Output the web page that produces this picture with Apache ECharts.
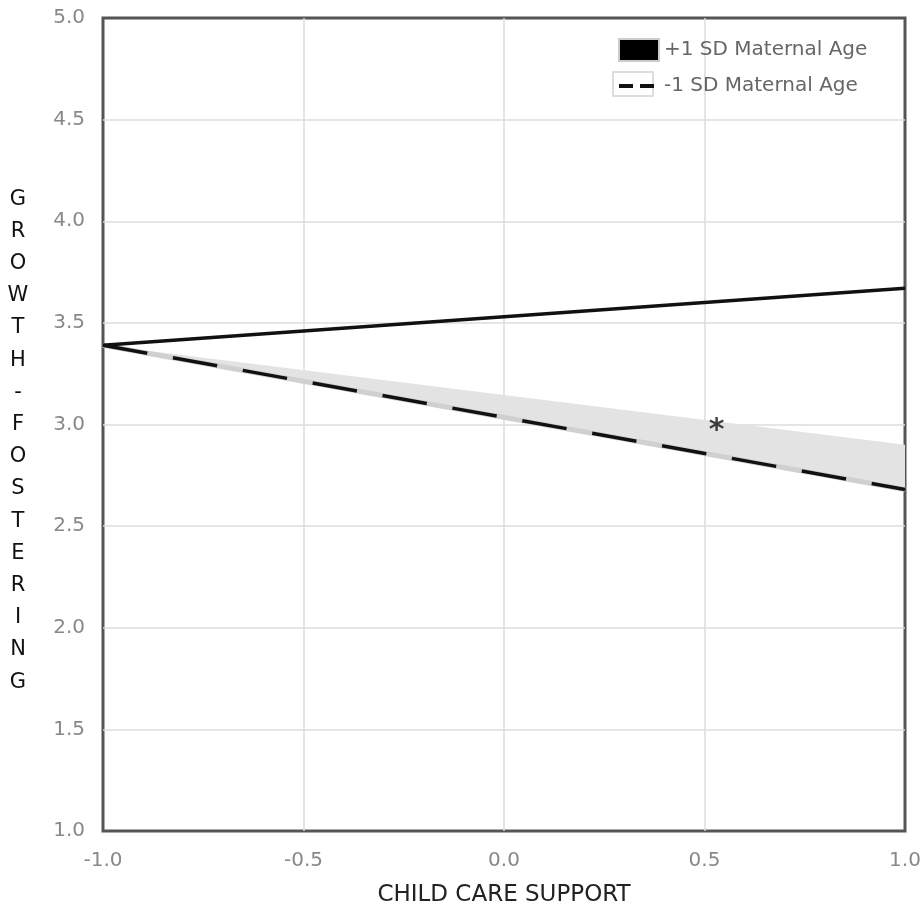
<!DOCTYPE html>
<html>
<head>
<meta charset="utf-8">
<script src="https://cdn.jsdelivr.net/npm/echarts@6/dist/echarts.min.js"></script>
<style>
  html, body { margin: 0; padding: 0; background: #fff; }
  #chart { width: 923px; height: 913px; }
</style>
</head>
<body>
<div id="chart"></div>
<script>
// x positions (child care support, in SD)
const xs = [-1.0, 1.0]
// fitted lines
const plusSD = [3.39, 3.67]
const minusSD = [3.39, 2.68]
// upper edge of shaded region above the -1 SD line
const bandTop = [3.39, 2.90]
const starPoint = [[0.53, 2.98]]
const yTitle = 'GROWTH-FOSTERING'

let chart = echarts.init(document.getElementById('chart'))

const pairs = vals => xs.map((x, i) => [x, vals[i]])

// polygon: along the -1 SD line, then back along the band top
const bandData = xs.map((x, i) => [x, minusSD[i], bandTop[i]])

let option = {
    animation: false,
    textStyle: { fontFamily: 'DejaVu Sans' },
    grid: {
        left: 103, right: 18, top: 18, bottom: 82,
        outerBoundsMode: 'none',
        show: true, borderColor: '#555', borderWidth: 3,
        backgroundColor: '#fff'
    },
    legend: {
        orient: 'vertical',
        left: 612, top: 33,
        itemWidth: 40, itemHeight: 22, itemGap: 14,
        textStyle: { color: '#666', fontSize: 20 },
        data: [
            { name: '+1 SD Maternal Age', icon: 'rect', itemStyle: { color: '#000', borderColor: '#ccc', borderWidth: 2 } },
            { name: '-1 SD Maternal Age', itemStyle: { opacity: 0 }, lineStyle: { color: '#111', width: 4, type: [14, 7] } }
        ]
    },
    graphic: [{
        type: 'rect', left: 612, top: 71, z: 1,
        shape: { width: 40, height: 24 },
        style: { fill: '#fff', stroke: '#ddd', lineWidth: 2 }
    }],
    xAxis: {
        type: 'value', min: -1, max: 1, interval: 0.5,
        axisLine: { show: false }, axisTick: { show: false },
        axisLabel: { color: '#888', fontSize: 20, margin: 20, formatter: v => v.toFixed(1) },
        splitLine: { showMinLine: false, showMaxLine: false, lineStyle: { color: '#ddd', width: 1.5 } },
        name: 'CHILD CARE SUPPORT', nameLocation: 'middle', nameGap: 53,
        nameTextStyle: { color: '#222', fontSize: 23 }
    },
    yAxis: {
        type: 'value', min: 1, max: 5, interval: 0.5,
        axisLine: { show: false }, axisTick: { show: false },
        axisLabel: { color: '#888', fontSize: 20, margin: 18, formatter: v => v.toFixed(1) },
        splitLine: { showMinLine: false, showMaxLine: false, lineStyle: { color: '#ddd', width: 1.5 } },
        // leading blank line nudges the stacked letters down to match
        name: '\n' + yTitle.split('').join('\n'), nameLocation: 'middle', nameRotate: 0, nameGap: 85,
        nameTextStyle: { color: '#111', fontSize: 21, lineHeight: 32.2, align: 'center' }
    },
    series: [
        {
            name: 'band', type: 'custom', silent: true, z: 1,
            data: bandData,
            renderItem: function (params, api) {
                if (params.dataIndex !== 0) return
                const lower = bandData.map(d => api.coord([d[0], d[1]]))
                const upper = bandData.map(d => api.coord([d[0], d[2]])).reverse()
                return {
                    type: 'polygon',
                    shape: { points: lower.concat(upper) },
                    style: { fill: '#e3e3e3' }
                }
            }
        },
        {
            name: 'minusUnder', type: 'line', symbol: 'none', z: 2,
            data: pairs(minusSD), lineStyle: { color: '#d0d0d0', width: 5 }, silent: true
        },
        {
            name: '+1 SD Maternal Age', type: 'line', symbol: 'none', z: 3,
            data: pairs(plusSD), itemStyle: { color: '#111' },
            lineStyle: { color: '#111', width: 3.5 }
        },
        {
            name: '-1 SD Maternal Age', type: 'line', symbol: 'none', z: 3,
            data: pairs(minusSD), itemStyle: { color: '#111' },
            lineStyle: { color: '#111', width: 3.5, type: [45, 26] }
        },
        {
            name: 'sig', type: 'scatter', symbolSize: 2, z: 4,
            itemStyle: { color: 'rgba(0,0,0,0)' },
            data: starPoint,
            label: { show: true, position: 'inside', formatter: '*', fontSize: 30, fontWeight: 'bold', color: '#111', offset: [0, 3] },
            silent: true
        }
    ]
}

chart.setOption(option)
</script>
</body>
</html>
